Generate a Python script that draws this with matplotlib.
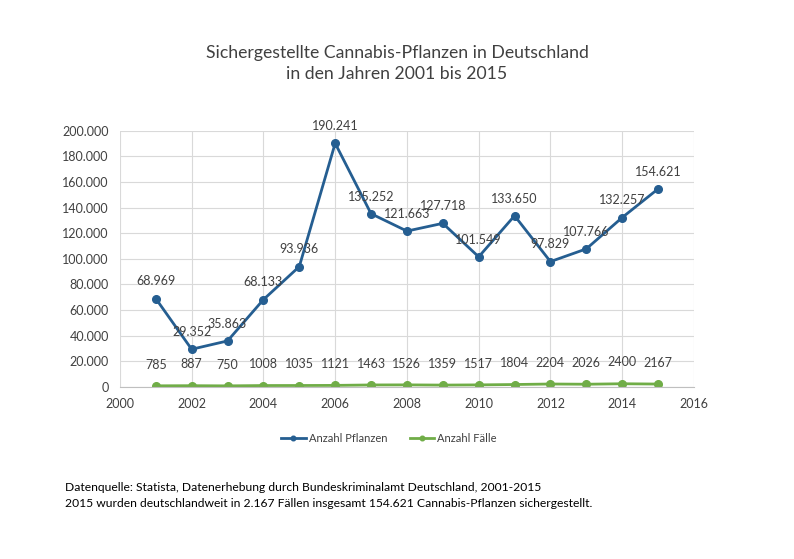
import matplotlib.pyplot as plt
from matplotlib.ticker import FuncFormatter

years = [2001, 2002, 2003, 2004, 2005, 2006, 2007, 2008,
         2009, 2010, 2011, 2012, 2013, 2014, 2015]
pflanzen = [68969, 29352, 35863, 68133, 93936, 190241, 135252, 121663,
            127718, 101549, 133650, 97829, 107766, 132257, 154621]
faelle = [785, 887, 750, 1008, 1035, 1121, 1463, 1526,
          1359, 1517, 1804, 2204, 2026, 2400, 2167]

blue = '#255E91'
green = '#70AD47'
grey = '#404040'

plt.rcParams['font.family'] = ['Lato', 'DejaVu Sans']


def de_num(v):
    return f'{int(v):,}'.replace(',', '.')


fig = plt.figure(figsize=(7.94, 5.59), dpi=100)
ax = fig.add_axes([0.151, 0.308, 0.723, 0.458])

ax.plot(years, pflanzen, color=blue, lw=2, marker='o', ms=5.5, label='Anzahl Pflanzen')
ax.plot(years, faelle, color=green, lw=2, marker='o', ms=5.5, label='Anzahl Fälle')

for x, y in zip(years, pflanzen):
    ax.annotate(de_num(y), (x, y), xytext=(0, 8), textcoords='offset points',
                ha='center', va='bottom', fontsize=9, color=grey)
for x, y in zip(years, faelle):
    ax.annotate(str(y), (x, y), xytext=(0, 11), textcoords='offset points',
                ha='center', va='bottom', fontsize=9, color=grey)

ax.set_xlim(2000, 2016)
ax.set_ylim(0, 200000)
ax.set_xticks(range(2000, 2017, 2))
ax.set_yticks(range(0, 200001, 20000))
ax.yaxis.set_major_formatter(FuncFormatter(lambda v, p: de_num(v)))
ax.grid(True, color='#D9D9D9', lw=0.8)
ax.set_axisbelow(True)
for s in ['top', 'right', 'left']:
    ax.spines[s].set_visible(False)
ax.spines['bottom'].set_color('#BFBFBF')
ax.tick_params(length=0, labelsize=9, colors=grey, pad=8)

fig.text(0.5, 0.887, 'Sichergestellte Cannabis-Pflanzen in Deutschland\nin den Jahren 2001 bis 2015',
         ha='center', va='center', fontsize=12.7, color=grey, linespacing=1.4)

fig.legend(loc='center', bbox_to_anchor=(0.49, 0.215), ncol=2, frameon=False,
           fontsize=8, labelcolor=grey, handlelength=2.2, handletextpad=0.3,
           columnspacing=2.0, markerscale=0.6)

fig.text(0.082, 0.114, 'Datenquelle: Statista, Datenerhebung durch Bundeskriminalamt Deutschland, 2001-2015\n'
         '2015 wurden deutschlandweit in 2.167 Fällen insgesamt 154.621 Cannabis-Pflanzen sichergestellt.',
         ha='left', va='center', fontsize=8.7, color='black', linespacing=1.5)

fig.savefig('out.png', dpi=100, facecolor='white')
